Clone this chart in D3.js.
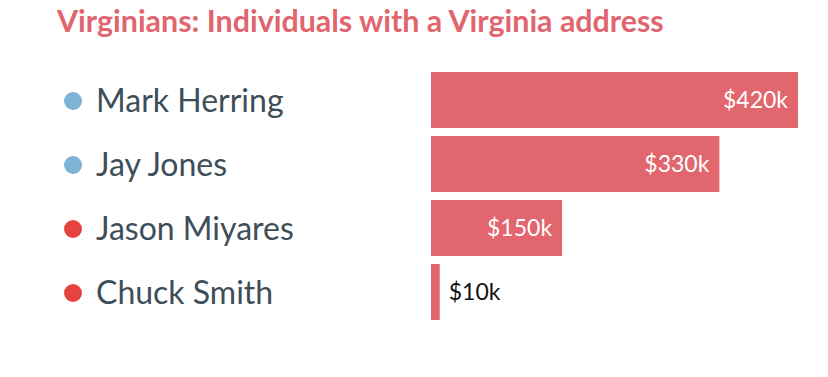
<!DOCTYPE html>
<html><head><meta charset="utf-8">
<script src="https://cdn.jsdelivr.net/npm/d3@7"></script>
<style>body{margin:0;background:#fff;} svg{display:block;}</style>
</head><body>
<script>
const title = "Virginians: Individuals with a Virginia address";
const candidates = ["Mark Herring", "Jay Jones", "Jason Miyares", "Chuck Smith"];
const parties = ["D", "D", "R", "R"];
const values = [420, 330, 150, 10];
const valueLabels = ["$420k", "$330k", "$150k", "$10k"];

const W = 828, H = 377;
const svg = d3.select("body").append("svg").attr("width", W).attr("height", H);

svg.append("text").attr("x", 57).attr("y", 32)
  .attr("font-family", "Lato").attr("font-weight", 700).attr("font-size", 30.4)
  .attr("fill", "#e0656e").text(title);

const x = d3.scaleLinear().domain([0, 420]).range([431, 798]);
const y = d3.scaleBand().domain(candidates).range([68, 324]).paddingInner(0.125).paddingOuter(0.0625);
const partyColor = d3.scaleOrdinal().domain(["D", "R"]).range(["#7fb3d6", "#e8443f"]);

const rows = svg.selectAll("g.row").data(candidates).join("g").attr("class", "row");

rows.append("circle")
  .attr("cx", 73).attr("cy", d => y(d) + y.bandwidth() / 2 + 1)
  .attr("r", 9).attr("fill", (d, i) => partyColor(parties[i]));

rows.append("text")
  .attr("x", 96).attr("y", d => y(d) + y.bandwidth() / 2 + 1)
  .attr("dy", "0.35em")
  .attr("font-family", "Lato").attr("font-size", 32).attr("fill", "#3e4e58")
  .text(d => d);

rows.append("rect")
  .attr("x", x(0)).attr("y", d => y(d))
  .attr("width", (d, i) => x(values[i]) - x(0)).attr("height", y.bandwidth())
  .attr("fill", "#e2666d");

rows.append("text")
  .attr("x", (d, i) => values[i] > 50 ? x(values[i]) - 10 : x(values[i]) + 9)
  .attr("y", d => y(d) + y.bandwidth() / 2)
  .attr("dy", "0.35em")
  .attr("text-anchor", (d, i) => values[i] > 50 ? "end" : "start")
  .attr("font-family", "Lato").attr("font-size", 23)
  .attr("fill", (d, i) => values[i] > 50 ? "#ffffff" : "#111111")
  .text((d, i) => valueLabels[i]);
</script>
</body></html>
